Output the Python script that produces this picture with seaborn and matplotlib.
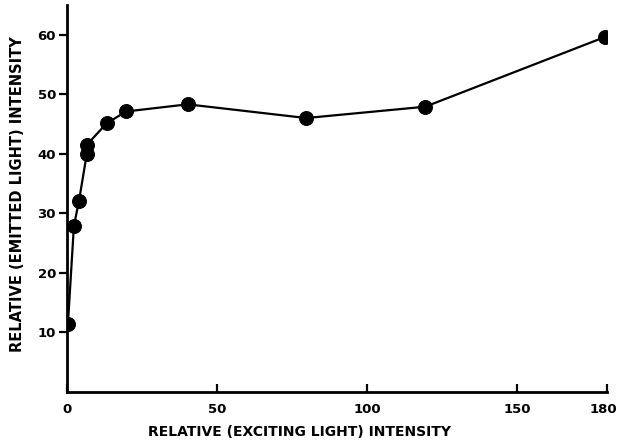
import pandas as pd
import seaborn as sns
import matplotlib.pyplot as plt
from matplotlib.transforms import ScaledTranslation

# values
exciting = [0.3, 2.3, 4.0, 6.6, 6.6, 13.2, 19.7, 40.2, 79.7, 119.4, 179.3]
emitted = [11.4, 27.9, 32.1, 40.0, 41.5, 45.1, 47.1, 48.3, 46.0, 47.9, 59.6]
x_ticks = [0, 50, 100, 150, 180]
y_ticks = [10, 20, 30, 40, 50, 60]

df = pd.DataFrame({"exciting": exciting, "emitted": emitted})

sns.set_style("ticks")
plt.rcParams['font.family'] = ['DejaVu Sans']
plt.rcParams['font.weight'] = 'bold'
for key in ['text.color', 'axes.labelcolor', 'xtick.color', 'ytick.color']:
    plt.rcParams[key] = 'black'

fig = plt.figure(figsize=(6.17, 4.41), dpi=100)
ax = fig.add_axes([0.1086, 0.111, 0.8752, 0.878])

sns.lineplot(data=df, x="exciting", y="emitted", estimator=None, sort=False,
             color="black", linewidth=1.6, marker="o", markersize=10,
             markeredgecolor="black", markerfacecolor="black", ax=ax)

ax.set_xlim(0, 180)
ax.set_ylim(0, 65)
ax.set_xticks(x_ticks)
ax.set_yticks(y_ticks)
ax.set_xticklabels([str(t) for t in x_ticks], fontsize=9.5, fontweight='bold')
ax.set_yticklabels([str(t) for t in y_ticks], fontsize=9.5, fontweight='bold')
ax.tick_params(axis='x', direction='in', length=6, width=1.6, pad=8)
ax.tick_params(axis='y', direction='out', length=6, width=1.6, pad=2)

# keep the last x label inside the figure
last = ax.get_xticklabels()[-1]
last.set_transform(last.get_transform() + ScaledTranslation(-4 / 100, 0, fig.dpi_scale_trans))

sns.despine(ax=ax)
for side in ['left', 'bottom']:
    ax.spines[side].set_linewidth(2)
    ax.spines[side].set_color('black')

ax.set_xlabel("RELATIVE (EXCITING LIGHT) INTENSITY", fontsize=10, fontweight='bold')
ax.set_ylabel("RELATIVE (EMITTED LIGHT) INTENSITY", fontsize=10.5, fontweight='bold')
ax.xaxis.set_label_coords(0.43, -0.085)
ax.yaxis.set_label_coords(-0.078, 0.51)

fig.savefig("out.png", dpi=100)
